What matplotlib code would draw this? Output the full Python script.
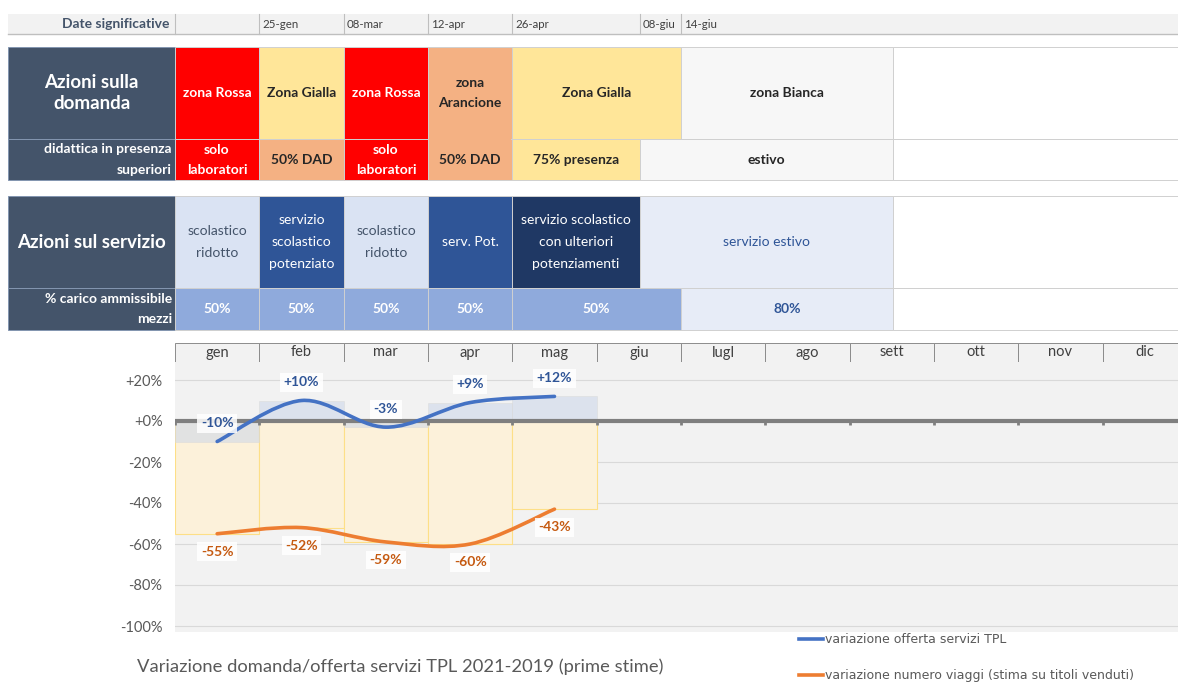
"""Variazione domanda/offerta servizi TPL 2021-2019: tabella azioni + grafico mensile."""

import matplotlib

matplotlib.use("Agg")
import matplotlib.pyplot as plt
from matplotlib.lines import Line2D
from matplotlib.patches import PathPatch, Rectangle
from matplotlib.path import Path

plt.rcParams["font.family"] = ["Lato", "DejaVu Sans"]

# --- data -------------------------------------------------------------
MONTHS = ["gen", "feb", "mar", "apr", "mag", "giu", "lugl", "ago", "sett", "ott", "nov", "dic"]
OFFER = [-10, 10, -3, 9, 12]          # variazione offerta servizi TPL (%)
DEMAND = [-55, -52, -59, -60, -43]    # variazione numero viaggi (%)
Y_TICKS = [20, 0, -20, -40, -60, -80, -100]
DATE_LABELS = ["25-gen", "08-mar", "12-apr", "26-apr", "08-giu", "14-giu"]

DOMANDA_TOP = ["zona Rossa", "Zona Gialla", "zona Rossa", "zona\nArancione", "Zona Gialla", "zona Bianca", ""]
DOMANDA_BOT = ["solo\nlaboratori", "50% DAD", "solo\nlaboratori", "50% DAD", "75% presenza", "estivo", ""]
SERVIZIO_TOP = ["scolastico\nridotto", "servizio\nscolastico\npotenziato", "scolastico\nridotto", "serv. Pot.",
                "servizio scolastico\ncon ulteriori\npotenziamenti", "servizio estivo", ""]
SERVIZIO_BOT = ["50%", "50%", "50%", "50%", "50%", "80%", ""]

TITLE = "Variazione domanda/offerta servizi TPL 2021-2019 (prime stime)"
LEGEND = ["variazione offerta servizi TPL", "variazione numero viaggi (stima su titoli venduti)"]

# --- layout / style -----------------------------------------------------
W, H = 1178, 688
X0 = 175            # left edge of month columns (px)
MW = 84.33          # month column width (px)
DATE_X = [259, 344, 428, 512, 640, 681]

SLATE = "#44546A"
RED, YELLOW, ORANGE, WHITE_Z = "#FF0000", "#FFE699", "#F4B183", "#F7F7F7"
LBLUE, MBLUE, NAVY, CBLUE, PBLUE = "#DAE3F3", "#2F5597", "#1F3864", "#8FAADC", "#E7ECF7"
DARK = "#262626"
BLUE_LINE, ORANGE_LINE = "#4472C4", "#ED7D31"

fig = plt.figure(figsize=(W / 100, H / 100), dpi=100)
ov = fig.add_axes([0, 0, 1, 1])
ov.set_xlim(0, W)
ov.set_ylim(H, 0)
ov.axis("off")


def cell(x0, x1, y0, y1, face, text="", color=DARK, weight="bold", size=10, edge="#D0D0D0", ls=1.8):
    ov.add_patch(Rectangle((x0, y0), x1 - x0, y1 - y0, facecolor=face, edgecolor=edge, linewidth=0.7))
    if text:
        ov.text((x0 + x1) / 2, (y0 + y1) / 2, text, ha="center", va="center", color=color,
                fontsize=size, weight=weight, linespacing=ls)


# date row
ov.add_patch(Rectangle((8, 14), W - 8, 20, facecolor="#F2F2F2", edgecolor="none"))
ov.plot([8, W], [34, 34], color="#BFBFBF", lw=1)
for x in [X0] + DATE_X:
    ov.plot([x, x], [14, 34], color="#BFBFBF", lw=0.8)
ov.text(170, 24, "Date significative", ha="right", va="center", fontsize=10, weight="bold", color=SLATE)
for x, lab in zip(DATE_X, DATE_LABELS):
    ov.text(x + 3, 24, lab, ha="left", va="center", fontsize=8.3, color="#404040")

# block 1: azioni sulla domanda
B1 = (47, 139, 180)
cell(8, X0, B1[0], B1[1], SLATE, "Azioni sulla\ndomanda", color="white", size=13.5, edge="#8496B0", ls=1.35)
ov.add_patch(Rectangle((8, B1[1]), X0 - 8, B1[2] - B1[1], facecolor=SLATE, edgecolor="#8496B0", lw=0.7))
ov.text(172, (B1[1] + B1[2]) / 2, "didattica in presenza\nsuperiori", ha="right", va="center",
        color="white", fontsize=10, weight="bold", linespacing=1.85)
top_spans = [(175, 259), (259, 344), (344, 428), (428, 512), (512, 681), (681, 893), (893, W)]
top_faces = [RED, YELLOW, RED, ORANGE, YELLOW, WHITE_Z, "white"]
top_cols = ["white", DARK, "white", DARK, DARK, DARK, DARK]
for (a, b), face, col, txt in zip(top_spans, top_faces, top_cols, DOMANDA_TOP):
    cell(a, b, B1[0], B1[1], face, txt, color=col)
bot_spans = [(175, 259), (259, 344), (344, 428), (428, 512), (512, 640), (640, 893), (893, W)]
bot_faces = [RED, ORANGE, RED, ORANGE, YELLOW, WHITE_Z, "white"]
bot_cols = ["white", DARK, "white", DARK, DARK, DARK, DARK]
for (a, b), face, col, txt in zip(bot_spans, bot_faces, bot_cols, DOMANDA_BOT):
    cell(a, b, B1[1], B1[2], face, txt, color=col)
# arancione is one merged cell
ov.add_patch(Rectangle((428.6, B1[1] - 1), 82.8, 2, facecolor=ORANGE, edgecolor="none"))

# block 2: azioni sul servizio
B2 = (196, 288, 330)
cell(8, X0, B2[0], B2[1], SLATE, "Azioni sul servizio", color="white", size=13.5, edge="#8496B0")
ov.add_patch(Rectangle((8, B2[1]), X0 - 8, B2[2] - B2[1], facecolor=SLATE, edgecolor="#8496B0", lw=0.7))
ov.text(172, (B2[1] + B2[2]) / 2, "% carico ammissibile\nmezzi", ha="right", va="center",
        color="white", fontsize=10, weight="bold", linespacing=1.85)
s_spans = [(175, 259), (259, 344), (344, 428), (428, 512), (512, 640), (640, 893), (893, W)]
s_faces = [LBLUE, MBLUE, LBLUE, MBLUE, NAVY, PBLUE, "white"]
s_cols = [SLATE, "white", SLATE, "white", "white", MBLUE, DARK]
for (a, b), face, col, txt in zip(s_spans, s_faces, s_cols, SERVIZIO_TOP):
    cell(a, b, B2[0], B2[1], face, txt, color=col, weight="normal", size=10, ls=2.05)
p_spans = [(175, 259), (259, 344), (344, 428), (428, 512), (512, 681), (681, 893), (893, W)]
p_faces = [CBLUE, CBLUE, CBLUE, CBLUE, CBLUE, PBLUE, "white"]
p_cols = ["white", "white", "white", "white", "white", MBLUE, DARK]
for (a, b), face, col, txt in zip(p_spans, p_faces, p_cols, SERVIZIO_BOT):
    cell(a, b, B2[1], B2[2], face, txt, color=col, size=10)

# month header
for i, m in enumerate(MONTHS):
    cell(X0 + i * MW, X0 + (i + 1) * MW, 343, 362, "#F2F2F2", m, color="#404040",
         weight="normal", size=10.5, edge="#8C8C8C")

# --- chart --------------------------------------------------------------
PT, PB = 362, 632
ax = fig.add_axes([X0 / W, 1 - PB / H, (W - X0) / W, (PB - PT) / H])
ax.set_facecolor("#F2F2F2")
ax.set_xlim(0, (W - X0) / MW)
px_per_pct = 41 / 20
ax.set_ylim(-100 - (PB - 626) / px_per_pct, (421 - PT) / px_per_pct)
for s in ax.spines.values():
    s.set_visible(False)
ax.set_xticks([])
ax.set_yticks(Y_TICKS)
ax.set_yticklabels([f"{v:+d}%" if v >= 0 else f"{v}%" for v in Y_TICKS])
ax.tick_params(axis="y", length=0, pad=9, labelsize=10.5, labelcolor="#595959")
ax.grid(axis="y", color="#D9D9D9", lw=0.8)
ax.set_axisbelow(True)

xc = [i + 0.5 for i in range(len(OFFER))]
ax.bar(xc, DEMAND, width=1.0, color="#FCF1DA", edgecolor="#FDDF87", lw=0.8, zorder=2)
ax.bar(xc, OFFER, width=1.0, color="#CBD6EA", alpha=0.55, edgecolor="#D9D9D9", lw=0.6, zorder=3)

ax.axhline(0, color="#7F7F7F", lw=3, zorder=4)
ax.vlines(range(0, 12), -1.8, 0, color="#7F7F7F", lw=2, zorder=4)


def smooth(xs, ys):
    pts = list(zip(xs, ys))
    n = len(pts)
    verts, codes = [pts[0]], [Path.MOVETO]
    for i in range(n - 1):
        p0 = pts[max(i - 1, 0)]
        p1, p2 = pts[i], pts[i + 1]
        p3 = pts[min(i + 2, n - 1)]
        c1 = (p1[0] + (p2[0] - p0[0]) / 6, p1[1] + (p2[1] - p0[1]) / 6)
        c2 = (p2[0] - (p3[0] - p1[0]) / 6, p2[1] - (p3[1] - p1[1]) / 6)
        verts += [c1, c2, p2]
        codes += [Path.CURVE4] * 3
    return Path(verts, codes)


ax.add_patch(PathPatch(smooth(xc, OFFER), fill=False, edgecolor=BLUE_LINE, lw=2.6, zorder=5, capstyle="round"))
ax.add_patch(PathPatch(smooth(xc, DEMAND), fill=False, edgecolor=ORANGE_LINE, lw=2.6, zorder=5, capstyle="round"))

box = dict(boxstyle="square,pad=0.25", facecolor="white", edgecolor="none", alpha=0.85)
for x, v in zip(xc, OFFER):
    ax.annotate(f"{v:+d}%", (x, v), xytext=(0, 13), textcoords="offset points", ha="center", va="center",
                fontsize=10, weight="bold", color=MBLUE, bbox=box, zorder=6)
for x, v in zip(xc, DEMAND):
    ax.annotate(f"{v}%", (x, v), xytext=(0, -13), textcoords="offset points", ha="center", va="center",
                fontsize=10, weight="bold", color="#C55A11", bbox=box, zorder=6)

handles = [Line2D([], [], color=BLUE_LINE, lw=2.6), Line2D([], [], color=ORANGE_LINE, lw=2.6)]
fig.legend(handles, LEGEND, loc="upper left", bbox_to_anchor=(793 / W, 1 - 627 / H), frameon=False,
           labelspacing=1.85, handlelength=1.9, handletextpad=0.15, borderpad=0,
           prop={"family": ["Liberation Sans Narrow", "DejaVu Sans"], "size": 9}, labelcolor="#595959")
fig.text(137 / W, 1 - 667 / H, TITLE, ha="left", va="center", fontsize=13.2, color="#595959")

fig.savefig("out.png", dpi=100, facecolor="white")
